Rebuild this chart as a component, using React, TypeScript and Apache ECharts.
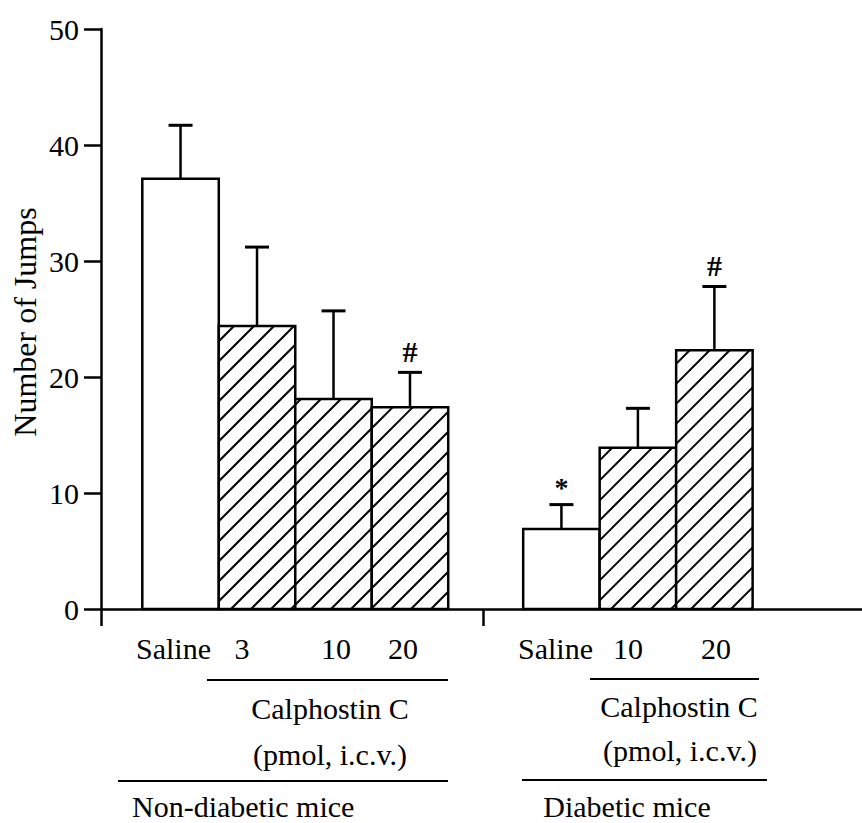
import React, { useEffect, useRef } from "react";
import * as echarts from "echarts";

// ---- data ----
const groups = ["Non-diabetic mice", "Diabetic mice"];
const categories = ["Saline", "3", "10", "20", "Saline", "10", "20"];
const groupOf = [0, 0, 0, 0, 1, 1, 1];
const means = [37.1, 24.4, 18.1, 17.4, 6.9, 13.9, 22.3];
const sems = [4.6, 6.8, 7.6, 3.0, 2.1, 3.4, 5.5];
const hatched = [false, true, true, true, false, true, true];
const marks = ["", "", "", "#", "*", "", "#"];
const yTicks = [0, 10, 20, 30, 40, 50];
const drugLabel = "Calphostin C";
const doseLabel = "(pmol, i.c.v.)";
const yTitle = "Number of Jumps";

// ---- layout ----
const groupStart = [0.54, 5.52];
const groupDividers = [0, 5];
const FONT = "Liberation Serif";

function barCenter(i: number) {
  const g = groupOf[i];
  const first = groupOf.indexOf(g);
  return groupStart[g] + (i - first) + 0.5;
}

export default function App() {
  const ref = useRef<HTMLDivElement>(null);
  useEffect(() => {
    document.body.style.margin = "0";
    if (!ref.current) return;
    const chart = echarts.init(ref.current, undefined, { renderer: "svg" });
    const data = means.map((m, i) => [i, m, sems[i]]);
    const txt = (text: string, x: number, baseline: number, align = "center") => ({
      type: "text",
      x,
      y: baseline - 10,
      style: {
        text,
        fill: "#000",
        font: `30px "${FONT}"`,
        textAlign: align,
        textVerticalAlign: "middle",
      },
    });
    const ln = (x1: number, x2: number, y: number) => ({
      type: "line",
      shape: { x1, y1: y, x2, y2: y },
      style: { stroke: "#000", lineWidth: 2 },
    });
    chart.setOption({
      animation: false,
      grid: { left: 101, right: 0, top: 29, bottom: 214, containLabel: false },
      xAxis: {
        type: "value",
        min: 0,
        max: 9.95,
        interval: 5,
        axisLine: { show: true, lineStyle: { color: "#000", width: 2.5 } },
        axisTick: {
          show: true,
          length: 17,
          customValues: groupDividers,
          lineStyle: { color: "#000", width: 2.5 },
        },
        axisLabel: { show: false },
        splitLine: { show: false },
      },
      yAxis: {
        type: "value",
        min: yTicks[0],
        max: yTicks[yTicks.length - 1],
        interval: 10,
        axisLine: { show: true, lineStyle: { color: "#000", width: 2.5 } },
        axisTick: { show: true, length: 17, lineStyle: { color: "#000", width: 2.5 } },
        axisLabel: { color: "#000", fontSize: 30, fontFamily: FONT, margin: 22 },
        splitLine: { show: false },
      },
      series: [
        {
          type: "custom",
          data,
          clip: false,
          renderItem: (params: any, api: any) => {
            const i = api.value(0);
            const m = api.value(1);
            const e = api.value(2);
            const c = barCenter(i);
            const tl = api.coord([c - 0.5, m]);
            const br = api.coord([c + 0.5, 0]);
            const x0 = tl[0], y0 = tl[1], x1 = br[0], y1 = br[1];
            const cx = (x0 + x1) / 2;
            const errTop = api.coord([c, m + e])[1];
            const children: any[] = [];
            children.push({
              type: "rect",
              shape: { x: x0, y: y0, width: x1 - x0, height: y1 - y0 },
              style: { fill: "#fff", stroke: "none" },
            });
            if (hatched[i]) {
              const s = 20;
              const cStart = Math.ceil((x0 + y0) / s) * s;
              for (let k = cStart; k <= x1 + y1; k += s) {
                const xa = Math.max(x0, k - y1);
                const xb = Math.min(x1, k - y0);
                if (xb - xa < 0.5) continue;
                children.push({
                  type: "line",
                  shape: { x1: xa, y1: k - xa, x2: xb, y2: k - xb },
                  style: { stroke: "#000", lineWidth: 2 },
                });
              }
            }
            children.push({
              type: "rect",
              shape: { x: x0, y: y0, width: x1 - x0, height: y1 - y0 },
              style: { fill: "none", stroke: "#000", lineWidth: 2.5 },
            });
            children.push({
              type: "line",
              shape: { x1: cx, y1: y0, x2: cx, y2: errTop },
              style: { stroke: "#000", lineWidth: 2.5 },
            });
            children.push({
              type: "line",
              shape: { x1: cx - 12, y1: errTop, x2: cx + 12, y2: errTop },
              style: { stroke: "#000", lineWidth: 3 },
            });
            if (marks[i]) {
              const star = marks[i] === "*";
              children.push({
                type: "text",
                x: cx,
                y: errTop - (star ? 17 : 21),
                style: {
                  text: marks[i],
                  fill: "#000",
                  font: `bold ${star ? 28 : 30}px "${FONT}"`,
                  textAlign: "center",
                  textVerticalAlign: "middle",
                },
              });
            }
            return { type: "group", children };
          },
        },
      ],
      graphic: [
        {
          type: "text",
          x: 25,
          y: 322,
          rotation: Math.PI / 2,
          style: {
            text: yTitle,
            fill: "#000",
            font: `32px "${FONT}"`,
            textAlign: "center",
            textVerticalAlign: "middle",
          },
        },
        txt(categories[0], 136, 658, "left"),
        txt(categories[1], 242, 658),
        txt(categories[2], 336, 658),
        txt(categories[3], 403, 658),
        ln(207, 448, 680),
        txt(drugLabel, 330, 718),
        txt(doseLabel, 330, 764),
        ln(118, 448, 781),
        txt(groups[0], 132, 816, "left"),
        txt(categories[4], 518, 658, "left"),
        txt(categories[5], 628, 658),
        txt(categories[6], 716, 658),
        ln(590, 759, 679),
        txt(drugLabel, 679, 716),
        txt(doseLabel, 680, 760),
        ln(522, 767, 780),
        txt(groups[1], 627, 816),
      ],
    });
    return () => chart.dispose();
  }, []);
  return <div ref={ref} style={{ width: 862, height: 823 }} />;
}
